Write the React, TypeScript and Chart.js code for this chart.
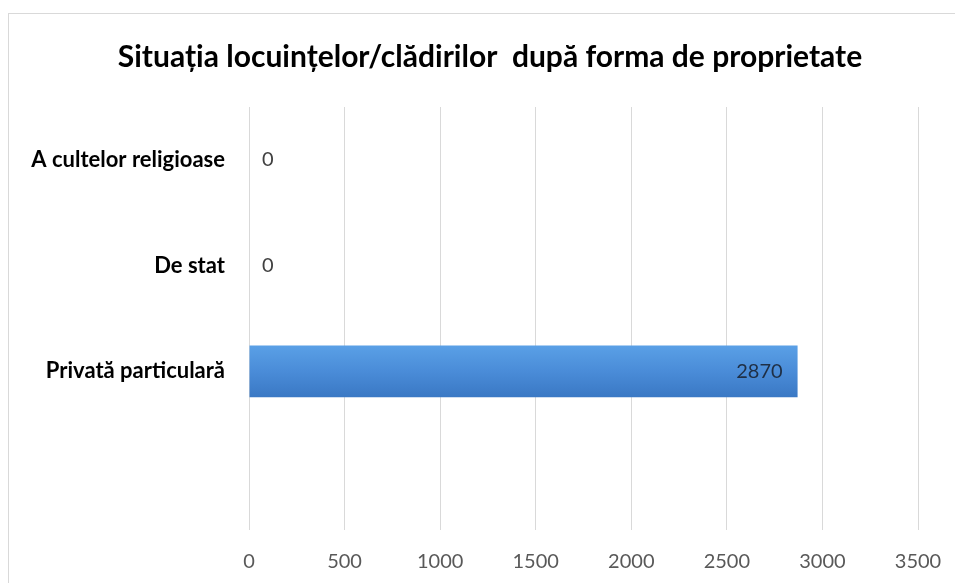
import React, { useEffect, useRef } from "react";
import { Chart, registerables } from "chart.js";

Chart.register(...registerables);

const TITLE = "Situația locuințelor/clădirilor  după forma de proprietate";
const categories = ["A cultelor religioase", "De stat", "Privată particulară", ""];
const values: (number | null)[] = [0, 0, 2870, null];
const xTicks = [0, 500, 1000, 1500, 2000, 2500, 3000, 3500];

const FONT = "Lato, 'Open Sans', sans-serif";

const framePlugin = {
  id: "frame",
  beforeDraw(chart: any) {
    const ctx = chart.ctx;
    ctx.save();
    ctx.fillStyle = "#ffffff";
    ctx.fillRect(0, 0, chart.width, chart.height);
    ctx.strokeStyle = "#d9d9d9";
    ctx.lineWidth = 1;
    ctx.strokeRect(8.5, 13.5, chart.width + 20, chart.height + 20);
    ctx.fillStyle = "#000000";
    ctx.font = `bold 30px ${FONT}`;
    ctx.textAlign = "center";
    ctx.textBaseline = "middle";
    ctx.fillText(TITLE, 490, 57);
    ctx.restore();
  },
};

const labelPlugin = {
  id: "valueLabels",
  afterDatasetsDraw(chart: any) {
    const ctx = chart.ctx;
    const meta = chart.getDatasetMeta(0);
    const xs = chart.scales.x;
    ctx.save();
    ctx.font = `20px ${FONT}`;
    ctx.textBaseline = "middle";
    meta.data.forEach((el: any, i: number) => {
      const v = values[i];
      if (v === null || v === undefined) return;
      const end = xs.getPixelForValue(v);
      if (v > 0) {
        ctx.textAlign = "right";
        ctx.fillStyle = "#1f2f45";
        ctx.fillText(String(v), end - 15, el.y);
      } else {
        ctx.textAlign = "left";
        ctx.fillStyle = "#404040";
        ctx.fillText(String(v), end + 13, el.y);
      }
    });
    ctx.restore();
  },
};

export default function App() {
  const ref = useRef<HTMLCanvasElement>(null);
  useEffect(() => {
    if (!ref.current) return;
    const chart = new Chart(ref.current, {
      type: "bar",
      data: {
        labels: categories,
        datasets: [
          {
            data: values as any,
            backgroundColor: (c: any) => {
              const ch = c.chart;
              if (!ch.chartArea || !ch.scales.y) return "#4a8bd6";
              const y = ch.scales.y.getPixelForValue(c.dataIndex);
              const g = ch.ctx.createLinearGradient(0, y - 26, 0, y + 26);
              g.addColorStop(0, "#5aa0e6");
              g.addColorStop(0.5, "#4a8cd8");
              g.addColorStop(1, "#3a78c4");
              return g;
            },
            borderWidth: 0,
            barPercentage: 0.49,
            categoryPercentage: 1,
          },
        ],
      },
      options: {
        indexAxis: "y",
        animation: false,
        responsive: false,
        maintainAspectRatio: false,
        layout: { padding: { top: 107, right: 37, left: 0, bottom: 0 } },
        plugins: {
          legend: { display: false },
          title: { display: false },
          tooltip: { enabled: false },
        },
        scales: {
          x: {
            min: 0,
            max: 3500,
            afterBuildTicks: (s: any) => {
              s.ticks = xTicks.map((v) => ({ value: v }));
            },
            afterFit: (s: any) => {
              s.height = 53;
              s.paddingLeft = 0;
              s.paddingRight = 0;
            },
            grid: { color: "#d9d9d9", drawTicks: false, lineWidth: 1 },
            border: { display: false },
            ticks: {
              padding: 20,
              maxRotation: 0,
              autoSkip: false,
              color: "#595959",
              font: { family: FONT, size: 20 },
              callback: (v: any) => String(v),
            },
          },
          y: {
            afterFit: (s: any) => {
              s.width = 249;
              s.paddingTop = 0;
              s.paddingBottom = 0;
            },
            grid: { display: false, drawTicks: false },
            border: { display: false },
            ticks: {
              padding: 24,
              color: "#000000",
              font: { family: FONT, size: 22, weight: "bold" },
            },
          },
        },
      },
      plugins: [framePlugin, labelPlugin],
    });
    return () => chart.destroy();
  }, []);
  return (
    <div style={{ position: "fixed", left: 0, top: 0, width: 955, height: 583, background: "#fff" }}>
      <canvas ref={ref} width={955} height={583} style={{ display: "block" }} />
    </div>
  );
}
